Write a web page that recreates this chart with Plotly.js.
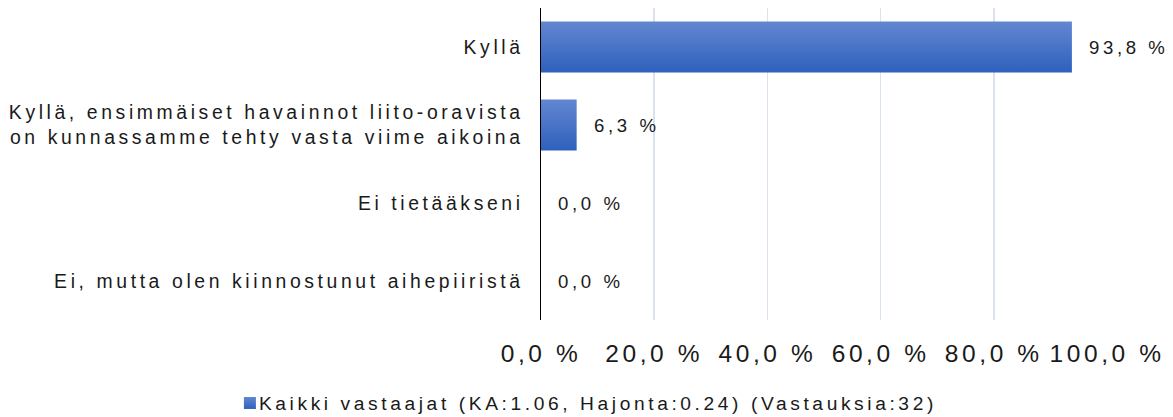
<!DOCTYPE html>
<html>
<head>
<meta charset="utf-8">
<script src="https://cdn.plot.ly/plotly-3.0.1.min.js"></script>
<style>
html,body{margin:0;padding:0;background:#fff;}
#chart{width:1173px;height:417px;}
text{letter-spacing:3.6px;}
</style>
</head>
<body>
<div id="chart"></div>
<script>
const categories = [
  "Kyllä",
  "Kyllä, ensimmäiset havainnot liito-oravista<br>on kunnassamme tehty vasta viime aikoina",
  "Ei tietääkseni",
  "Ei, mutta olen kiinnostunut aihepiiristä"
];
const values = [93.8, 6.3, 0.0, 0.0];
const valueLabels = ["93,8 %", "6,3 %", "0,0 %", "0,0 %"];
const tickValues = [0, 20, 40, 60, 80, 100];
const tickLabels = ["0,0 %", "20,0 %", "40,0 %", "60,0 %", "80,0 %", "100,0 %"];
const seriesName = "Kaikki vastaajat (KA:1.06, Hajonta:0.24) (Vastauksia:32)";

const font = "Liberation Sans, Arial, sans-serif";

const trace = {
  type: "bar",
  orientation: "h",
  x: values,
  y: categories,
  name: seriesName,
  width: 0.654,
  marker: {color: "#4472c4", line: {width: 0}},
  hoverinfo: "none",
  cliponaxis: false
};

const annotations = values.map((v, i) => ({
  x: v, y: categories[i], xref: "x", yref: "y",
  text: valueLabels[i], showarrow: false,
  xanchor: "left", yanchor: "middle", xshift: 15,
  font: {family: font, size: 18.6, color: "#1a1a1a"}
}));

const layout = {
  width: 1173, height: 417,
  margin: {l: 541, r: 66, t: 8, b: 97},
  paper_bgcolor: "#fff", plot_bgcolor: "#fff",
  showlegend: true,
  legend: {
    orientation: "h", xref: "container", yref: "container",
    x: 0.196, xanchor: "left", y: 0.0336, yanchor: "middle",
    font: {family: font, size: 19.2, color: "#1a1a1a"},
    itemwidth: 30, traceorder: "normal"
  },
  xaxis: {
    range: [0, 100], tickvals: tickValues, ticktext: tickLabels,
    showgrid: true, gridcolor: "#dbe2ef", gridwidth: 1.5,
    zeroline: false, showline: false, ticks: "",
    ticklabelstandoff: 16,
    tickfont: {family: font, size: 24.5, color: "#1a1a1a"},
    fixedrange: true
  },
  yaxis: {
    type: "category", autorange: "reversed",
    showgrid: false, zeroline: false,
    showline: true, linecolor: "#000", linewidth: 1.5,
    ticks: "", ticklabelstandoff: 12,
    tickfont: {family: font, size: 19.4, color: "#1a1a1a"},
    fixedrange: true
  },
  annotations: annotations,
  bargap: 0.35
};

Plotly.newPlot("chart", [trace], layout, {staticPlot: true, displayModeBar: false}).then(gd => {
  const svg = gd.querySelector(".main-svg");
  const ns = "http://www.w3.org/2000/svg";
  let defs = svg.querySelector("defs");
  if (!defs) { defs = document.createElementNS(ns, "defs"); svg.prepend(defs); }
  const g = document.createElementNS(ns, "linearGradient");
  g.setAttribute("id", "barGrad");
  g.setAttribute("x1", "0"); g.setAttribute("y1", "0");
  g.setAttribute("x2", "0"); g.setAttribute("y2", "1");
  [["0", "#6387d1"], ["1", "#2e60bc"]].forEach(([o, c]) => {
    const s = document.createElementNS(ns, "stop");
    s.setAttribute("offset", o); s.setAttribute("stop-color", c);
    g.appendChild(s);
  });
  defs.appendChild(g);
  gd.querySelectorAll(".barlayer .point path, .legend .legendpoints path").forEach(p => {
    p.style.fill = "url(#barGrad)";
  });
  gd.querySelectorAll(".legend .legendtext").forEach(t => {
    const x = parseFloat(t.getAttribute("x")) || 0;
    t.setAttribute("x", x - 11);
  });
});
</script>
</body>
</html>
